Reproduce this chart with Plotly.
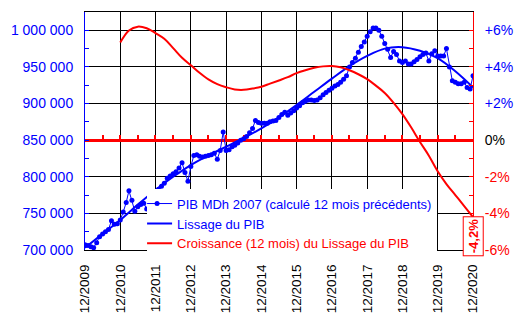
import plotly.graph_objects as go
import pandas as pd

# ---------------- data ----------------
months = [d.strftime('%Y-%m-%d') for d in pd.date_range('2009-12-01', '2020-12-01', freq='MS')]
pib = [707000, 706000, 704500, 703000, 710000, 718000, 722000, 725000, 728000, 740000, 735000, 736000,
       741000, 752000, 765000, 781000, 768000, 753000, 759000, 762000, 764000, 756000, 765000, 772000,
       777000, 783000, 787000, 791000, 798000, 801000, 804000, 807000, 812000, 819000, 806000, 794000,
       814000, 829000, 830000, 828000, 827000, 828000, 829000, 830000, 832000, 824000, 836000, 861000,
       836000, 837000, 841000, 843000, 846000, 850000, 852000, 855000, 860000, 866000, 877000, 874000,
       873000, 873000, 873000, 875000, 876000, 877000, 881000, 885000, 888000, 884000, 887000, 890000,
       894000, 897000, 901000, 903000, 905000, 905000, 904000, 905000, 908000, 912000, 915000, 918000,
       921000, 924000, 926000, 929000, 933000, 938000, 950000, 956000, 962000, 970000, 978000, 984000,
       992000, 998000, 1003000, 1003000, 1000000, 992000, 982000, 974000, 963000, 971000, 967000, 958000,
       956000, 958000, 954000, 954000, 957000, 960000, 964000, 967000, 969000, 958000, 968000, 972000,
       965000, 965000, 965000, 975000, 950000, 931000, 929000, 927000, 927000, 929000, 922000, 920000,
       938000]

smooth_dates = [d.strftime('%Y-%m-%d') for d in pd.date_range('2009-12-01', '2020-12-01', freq='6MS')]
smooth = [703000, 722000, 741000, 762000, 782000, 800000, 816000, 829000, 841000, 853000, 866000, 881000,
          898000, 916000, 934000, 951000, 965000, 975000, 977000, 972000, 962000, 944000, 922000]

growth_dates = [d.strftime('%Y-%m-%d') for d in pd.date_range('2010-12-01', '2020-12-01', freq='3MS')]
growth = [5.33, 5.99, 6.2, 6.11, 5.85, 5.54, 5.03, 4.5, 4.09, 3.68, 3.32, 3.06, 2.89, 2.77, 2.75, 2.82,
          2.92, 3.09, 3.26, 3.44, 3.66, 3.82, 3.95, 4.03, 4.05, 3.98, 3.82, 3.6, 3.33, 2.98, 2.58, 2.04,
          1.42, 0.7, -0.1, -0.85, -1.7, -2.4, -3.0, -3.6, -4.2]

year_ticks = [f'{y}-12-01' for y in range(2009, 2021)]
year_labels = [f'12/{y}' for y in range(2009, 2021)]

left_tickvals = [700000, 750000, 800000, 850000, 900000, 950000, 1000000]
left_ticktext = ['700 000', '750 000', '800 000', '850 000', '900 000', '950 000', '1 000 000']

right_tickvals = [-6, -4, -2, 0, 2, 4, 6]
right_labels = ['-6%', '-4%', '-2%', '0%', '+2%', '+4%', '+6%']
right_colors = ['#FF0000', '#FF0000', '#FF0000', '#000000', '#0000FF', '#0000FF', '#0000FF']

names = ['PIB MDh 2007 (calculé 12 mois précédents)', 'Lissage du PIB',
         'Croissance (12 mois) du Lissage du PIB']

BLUE = '#0000FF'
RED = '#FF0000'
FONT = 'Liberation Sans, Arial, sans-serif'

# ---------------- figure ----------------
fig = go.Figure()
fig.add_trace(go.Scatter(x=months, y=pib, mode='lines+markers', name=names[0],
                         line=dict(color=BLUE, width=1), marker=dict(size=5, color=BLUE)))
fig.add_trace(go.Scatter(x=smooth_dates, y=smooth, mode='lines', name=names[1],
                         line=dict(color=BLUE, width=2, shape='spline')))
fig.add_trace(go.Scatter(x=growth_dates, y=growth, mode='lines', yaxis='y2',
                         name=f'<span style="color:{RED}">{names[2]}</span>',
                         line=dict(color=RED, width=2, shape='spline')))
# carrier for the zero-growth axis
fig.add_trace(go.Scatter(x=[months[0]], y=[None], xaxis='x2', yaxis='y', showlegend=False,
                         hoverinfo='skip', mode='lines'))

ann_text = f'<b>{growth[-1]:.1f}%</b>'.replace('.', ',')
fig.add_annotation(x=months[-1], y=-5.25, xref='x', yref='y2', text=ann_text, textangle=-90,
                   showarrow=False, font=dict(color=RED, size=13, family=FONT),
                   bgcolor='white', bordercolor=RED, borderwidth=1, borderpad=2)

zero_pos = (850000 - 700000) / (1025000 - 700000)

fig.update_layout(
    width=531, height=324,
    margin=dict(l=82, r=58, t=11, b=72),
    paper_bgcolor='white', plot_bgcolor='white',
    font=dict(family=FONT, size=14),
    showlegend=True,
    legend=dict(x=0.160, y=0.258, xanchor='left', yanchor='top', bgcolor='white',
                font=dict(size=13, color=BLUE, family=FONT), tracegroupgap=0,
                itemwidth=30, indentation=-10),
    xaxis=dict(type='date', range=[months[0], months[-1]], tickmode='array',
               tickvals=year_ticks, ticktext=year_labels, tickangle=-90,
               tickfont=dict(size=13.5, color='black'),
               showgrid=True, gridcolor='black', gridwidth=1,
               showline=True, linecolor='black', linewidth=1, mirror=True,
               ticks='inside', ticklen=3, tickcolor='black', ticklabelstandoff=8,
               zeroline=False),
    xaxis2=dict(type='date', range=[months[0], months[-1]], overlaying='x', anchor='free',
                position=zero_pos, showticklabels=False, showgrid=False,
                showline=True, linecolor=RED, linewidth=2.5,
                tickmode='linear', tick0='2009-12-01', dtick='M6',
                ticks='inside', ticklen=4, tickwidth=2, tickcolor=RED,
                layer='below traces', zeroline=False),
    yaxis=dict(range=[700000, 1025000], tickmode='array', tickvals=left_tickvals,
               ticktext=left_ticktext, tickfont=dict(size=14, color=BLUE),
               showgrid=True, gridcolor='black', gridwidth=1,
               showline=True, linecolor=BLUE, linewidth=1,
               ticks='inside', ticklen=4, tickcolor=BLUE, ticklabelstandoff=8,
               minor=dict(dtick=25000, ticks='inside', ticklen=4, tickcolor=BLUE, showgrid=False),
               zeroline=False),
    yaxis2=dict(range=[-6, 7], overlaying='y', side='right', anchor='x',
                tickmode='array', tickvals=right_tickvals,
                ticktext=[f'<span style="color:{c}">{t}</span>' for t, c in zip(right_labels, right_colors)],
                tickfont=dict(size=14),
                showgrid=False, showline=True, linecolor=RED, linewidth=1,
                ticks='inside', ticklen=4, tickcolor=RED, ticklabelstandoff=8,
                minor=dict(dtick=1, ticks='inside', ticklen=4, tickcolor=RED, showgrid=False),
                zeroline=False),
)

fig.write_html('out.html')
